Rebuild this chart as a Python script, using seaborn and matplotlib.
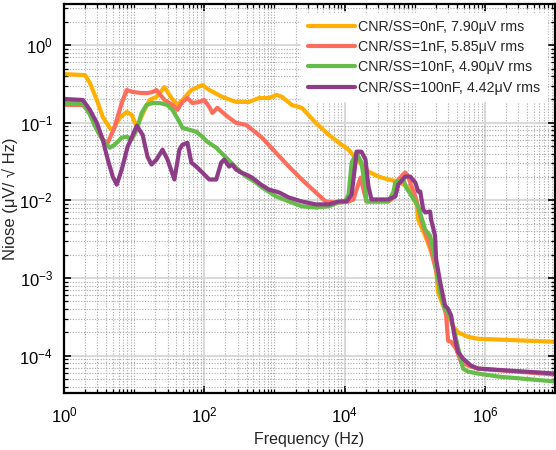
import numpy as np
import pandas as pd
import matplotlib
matplotlib.use("Agg")
import matplotlib.pyplot as plt
import matplotlib.ticker as mticker
import seaborn as sns

# ---------------- data ----------------
labels = ["CNR/SS=0nF, 7.90μV rms", "CNR/SS=1nF, 5.85μV rms",
          "CNR/SS=10nF, 4.90μV rms", "CNR/SS=100nF, 4.42μV rms"]
colors = ["#FFB000", "#FF6E5C", "#66BC48", "#8E3C88"]

f_0nF = [1, 2.0, 2.34, 2.94, 3.57, 4.49, 4.95, 6.22, 7.83, 9.22,
         10.9, 14.1, 16.6, 20.8, 27.1, 34.0, 41.4, 48.7, 65.4, 93.7,
         118, 180, 284, 435, 603, 835, 1080, 1280, 1770, 2460,
         3880, 5930, 9060, 11400, 15800, 21900, 30400, 42100, 58300, 80900,
         105000, 112000, 141000, 171000, 202000, 215000, 254000, 299000, 352000, 414000,
         574000, 796000, 1e7]
v_0nF = [0.425, 0.412, 0.326, 0.197, 0.119, 0.0863, 0.0813, 0.116, 0.138, 0.127,
         0.0889, 0.147, 0.197, 0.216, 0.289, 0.209, 0.170, 0.197, 0.265, 0.307,
         0.265, 0.216, 0.186, 0.186, 0.209, 0.209, 0.229, 0.216, 0.170, 0.156,
         0.1, 0.0702, 0.0523, 0.0451, 0.0316, 0.0235, 0.0203, 0.0186, 0.0175, 0.0147,
         0.0097, 0.0057, 0.0035, 0.0022, 0.0013, 0.00066, 0.00044, 0.00033, 0.00024, 0.0002,
         0.000175, 0.000165, 0.000151]

f_1nF = [1, 1.86, 2.34, 2.94, 3.57, 4.21, 5.29, 6.65, 7.83, 9.52,
         12.8, 15.5, 18.3, 20.8, 27.1, 35.2, 41.4, 48.7, 57.4, 67.6,
         85, 100, 118, 130, 153, 180, 226, 284, 394, 547,
         665, 1050, 1610, 2460, 3880, 5370, 7450, 11400, 13400, 14800,
         16900, 18600, 20500, 42100, 52900, 58300, 73300, 80900, 86300, 102000,
         132000, 166000, 195000, 230000, 254000, 280000, 299000, 330000, 388000, 457000,
         574000, 796000, 1e7]
v_1nF = [0.170, 0.170, 0.134, 0.0813, 0.0606, 0.0554, 0.0889, 0.180, 0.265, 0.250,
         0.242, 0.242, 0.250, 0.265, 0.197, 0.170, 0.147, 0.186, 0.209, 0.180,
         0.186, 0.197, 0.160, 0.134, 0.156, 0.138, 0.116, 0.1, 0.0943, 0.0745,
         0.0643, 0.0412, 0.0273, 0.0186, 0.0127, 0.0097, 0.0094, 0.0097, 0.0103, 0.0138,
         0.0197, 0.0138, 0.0097, 0.0097, 0.0113, 0.0186, 0.0229, 0.0203, 0.0170, 0.0113,
         0.0046, 0.0026, 0.00143, 0.00072, 0.00049, 0.00033, 0.000156, 0.000151, 0.000123, 0.0000838,
         0.0000745, 0.0000681, 0.0000571]

f_10nF = [1, 1.86, 2.34, 2.94, 3.57, 4.49, 5.29, 6.65, 7.83, 9.22,
          10.9, 12.8, 15.0, 18.3, 23.0, 29.9, 35.2, 44.2, 48.7, 61.3,
          77.0, 93.7, 110, 148, 205, 284, 394, 547, 665, 1050,
          1610, 2460, 3880, 5930, 8220, 10300, 11400, 12600, 14800, 17400,
          19900, 20500, 42100, 49500, 52900, 68700, 75700, 89200, 112000, 141000,
          166000, 195000, 230000, 271000, 330000, 388000, 442000, 488000, 574000, 796000,
          1.53e6, 1e7]
v_10nF = [0.180, 0.180, 0.127, 0.0813, 0.0606, 0.0478, 0.0523, 0.0643, 0.0662, 0.0606,
          0.0813, 0.134, 0.170, 0.180, 0.180, 0.170, 0.147, 0.103, 0.0863, 0.0813,
          0.0767, 0.0662, 0.0571, 0.0478, 0.0356, 0.0265, 0.0203, 0.0170, 0.0147, 0.0113,
          0.0097, 0.0084, 0.0081, 0.0084, 0.0094, 0.0100, 0.0119, 0.0307, 0.0412, 0.0307,
          0.0138, 0.0097, 0.0097, 0.0127, 0.0170, 0.0186, 0.0147, 0.0116, 0.0084, 0.0042,
          0.0035, 0.00175, 0.00066, 0.0004, 0.0003, 0.000165, 0.0001, 0.0000681, 0.0000623, 0.0000588,
          0.0000538, 0.0000465]

f_100nF = [1, 1.86, 2.34, 2.94, 3.57, 4.21, 4.95, 5.65, 6.65, 8.09,
           10.9, 13.2, 15.5, 17.7, 20.8, 25.4, 29.9, 37.5, 44.2, 48.7,
           57.4, 65.4, 77.0, 93.7, 118, 148, 174, 192, 226, 250,
           284, 335, 394, 480, 644, 835, 1160, 1610, 2460, 3880,
           5930, 8220, 10700, 12600, 14300, 14800, 17400, 19900, 21900, 24200,
           42100, 52900, 58300, 73300, 86300, 102000, 112000, 120000, 132000, 141000,
           166000, 171000, 195000, 202000, 230000, 271000, 299000, 330000, 375000, 414000,
           488000, 633000, 796000, 1e7]
v_100nF = [0.203, 0.197, 0.147, 0.1, 0.0606, 0.0336, 0.0203, 0.0160, 0.0250, 0.0493,
           0.0916, 0.0702, 0.0366, 0.0290, 0.0336, 0.0451, 0.0336, 0.0186, 0.0451, 0.0523,
           0.0554, 0.0307, 0.0273, 0.0229, 0.0186, 0.0186, 0.0307, 0.0336, 0.0273, 0.0290,
           0.0250, 0.0229, 0.0216, 0.0197, 0.0160, 0.0138, 0.0127, 0.0109, 0.0097, 0.0089,
           0.0089, 0.0097, 0.0097, 0.0119, 0.0307, 0.0425, 0.0425, 0.0336, 0.0151, 0.0103,
           0.0103, 0.0113, 0.0160, 0.0203, 0.0203, 0.0170, 0.0130, 0.0130, 0.0077, 0.0070,
           0.0072, 0.0057, 0.0035, 0.00175, 0.00089, 0.00044, 0.0004, 0.00033, 0.000165, 0.000112,
           0.0000916, 0.0000745, 0.0000681, 0.0000588]

x_major_ticks = [1e0, 1e2, 1e4, 1e6]
y_major_ticks = [1e-4, 1e-3, 1e-2, 1e-1, 1e0]

freqs = [f_0nF, f_1nF, f_10nF, f_100nF]
vals = [v_0nF, v_1nF, v_10nF, v_100nF]

frames = []
for lab, f, v in zip(labels, freqs, vals):
    frames.append(pd.DataFrame({"Frequency": f, "Noise": v, "Series": lab}))
df = pd.concat(frames, ignore_index=True)

# ---------------- style ----------------
sns.set_theme(style="white")
plt.rcParams["font.family"] = ["Liberation Sans", "DejaVu Sans"]
plt.rcParams["mathtext.fontset"] = "custom"
plt.rcParams["mathtext.rm"] = "Liberation Sans"
plt.rcParams["mathtext.it"] = "Liberation Sans"
plt.rcParams["mathtext.default"] = "regular"

fig = plt.figure(figsize=(5.56, 4.5), dpi=100)
ax = fig.add_axes([64 / 556, 1 - 393 / 450, (555 - 64) / 556, (393 - 4) / 450])

sns.lineplot(data=df, x="Frequency", y="Noise", hue="Series",
             hue_order=labels, palette=colors, estimator=None, sort=False,
             linewidth=3.0, ax=ax)

ax.set_xscale("log")
ax.set_yscale("log")
ax.set_xlim(1, 1e7)
ax.set_ylim(3.3e-5, 3.4)

ax.xaxis.set_major_locator(mticker.FixedLocator(x_major_ticks))
ax.xaxis.set_minor_locator(mticker.LogLocator(base=10, subs=np.arange(1, 10), numticks=30))
ax.yaxis.set_major_locator(mticker.FixedLocator(y_major_ticks))
ax.yaxis.set_minor_locator(mticker.LogLocator(base=10, subs=np.arange(2, 10), numticks=30))
fmt = mticker.FuncFormatter(lambda v, p: r"$10^{%d}$" % int(round(np.log10(v))))
ax.xaxis.set_major_formatter(fmt)
ax.yaxis.set_major_formatter(fmt)
ax.xaxis.set_minor_formatter(mticker.NullFormatter())
ax.yaxis.set_minor_formatter(mticker.NullFormatter())

ax.grid(True, which="major", color="#d6d6d6", linestyle="-", linewidth=1.3)
ax.grid(True, which="minor", color="#a8a8a8", linestyle=(0, (1, 1.5)), linewidth=0.8)
ax.set_axisbelow(True)

ax.tick_params(which="both", direction="in", top=True, right=True,
               bottom=True, left=True, colors="black")
ax.tick_params(axis="x", which="major", length=5, width=1.2, labelsize=12, pad=9)
ax.tick_params(axis="y", which="major", length=5, width=1.2, labelsize=12, pad=8)
ax.tick_params(which="minor", length=3, width=0.9)

for s in ax.spines.values():
    s.set_visible(True)
    s.set_color("black")
    s.set_linewidth(1.6)

ax.set_xlabel("Frequency (Hz)", fontsize=11.5, labelpad=5)
ax.set_ylabel("Niose (μV/ √ Hz)", fontsize=12, labelpad=1)

leg = ax.legend(loc="upper right", fontsize=10.3, frameon=True, fancybox=False,
                handlelength=3.3, handletextpad=0.25, borderpad=0.45,
                labelspacing=0.45, bbox_to_anchor=(0.998, 0.995))
leg.get_frame().set_edgecolor("white")
leg.get_frame().set_facecolor("white")
leg.get_frame().set_alpha(1.0)
for line in leg.get_lines():
    line.set_linewidth(3.0)

fig.savefig("out.png", dpi=100)
